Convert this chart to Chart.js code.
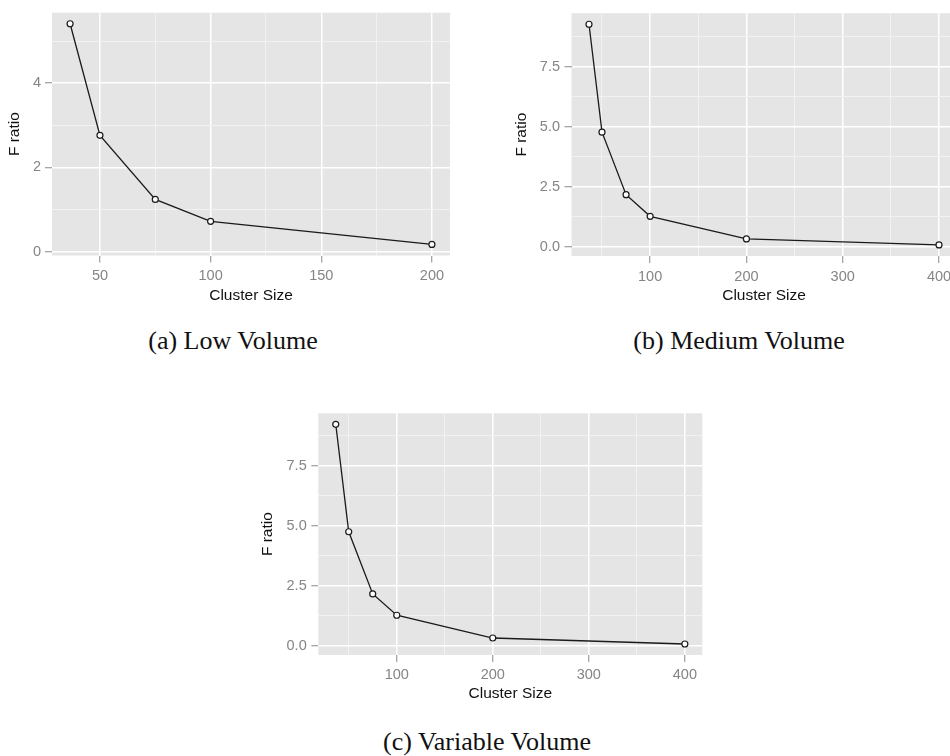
<!DOCTYPE html>
<html><head><meta charset="utf-8">
<script src="https://cdn.jsdelivr.net/npm/chart.js@4.4.1/dist/chart.umd.min.js"></script>
<style>
html,body{margin:0;padding:0;background:#fff;overflow:hidden;width:950px;height:756px;position:relative;}
canvas{position:absolute;display:block;}
.cap{position:absolute;font-family:"Liberation Serif","Times New Roman",serif;font-size:26px;line-height:26px;color:#111;white-space:nowrap;transform:translateX(-50%);}
</style></head><body>
<canvas id="ca" width="450" height="306" style="left:0px;top:0px"></canvas>
<canvas id="cb" width="457" height="306" style="left:500px;top:0px"></canvas>
<canvas id="cc" width="453" height="306" style="left:250px;top:400px"></canvas>
<div class="cap" style="left:233px;top:328px">(a) Low Volume</div>
<div class="cap" style="left:739px;top:328px">(b) Medium Volume</div>
<div class="cap" style="left:487px;top:729px">(c) Variable Volume</div>
<script>
// ---- data ----
const clusterSizeA = [36.5, 50, 75, 100, 200];
const fRatioA      = [5.41, 2.76, 1.24, 0.72, 0.17];
const clusterSizeB = [36.5, 50, 75, 100, 200, 400];
const fRatioB      = [9.26, 4.77, 2.17, 1.27, 0.33, 0.08];
const clusterSizeC = [36.5, 50, 75, 100, 200, 400];
const fRatioC      = [9.23, 4.75, 2.16, 1.27, 0.32, 0.07];

// ---- ticks ----
const xTicksA = [50, 100, 150, 200];
const xTickLabelsA = ['50', '100', '150', '200'];
const xMinorA = [75, 125, 175];
const yTicksA = [0, 2, 4];
const yTickLabelsA = ['0', '2', '4'];
const yMinorA = [1, 3, 5];

const xTicksBC = [100, 200, 300, 400];
const xTickLabelsBC = ['100', '200', '300', '400'];
const xMinorBC = [50, 150, 250, 350];
const yTicksBC = [0, 2.5, 5, 7.5];
const yTickLabelsBC = ['0.0', '2.5', '5.0', '7.5'];
const yMinorBC = [1.25, 3.75, 6.25, 8.75];

const xTitle = 'Cluster Size';
const yTitle = 'F ratio';

// ---- styling ----
const SANS = "'Liberation Sans', Arial, sans-serif";
const bgPlugin = {
  id: 'panelBg',
  beforeDraw(chart) {
    const {ctx, chartArea: a} = chart;
    ctx.save();
    ctx.fillStyle = '#E5E5E5';
    ctx.fillRect(a.left, a.top, a.right - a.left, a.bottom - a.top);
    ctx.restore();
  }
};

function expand(arr) {
  const lo = Math.min(...arr), hi = Math.max(...arr), d = (hi - lo) * 0.05;
  return [lo - d, hi + d];
}

function makeChart(id, xs, ys, xMaj, xLab, xMin, yMaj, yLab, yMin, g) {
  const [xmin, xmax] = expand(xs);
  const [ymin, ymax] = expand(ys);
  const gridOpts = (maj) => ({
    drawTicks: true,
    tickLength: 7,
    tickWidth: 1,
    tickColor: (c) => (c.tick && maj.includes(c.tick.value)) ? '#8a8a8a' : 'rgba(0,0,0,0)',
    color: (c) => (c.tick && maj.includes(c.tick.value)) ? '#FFFFFF' : '#F2F2F2',
    lineWidth: (c) => (c.tick && maj.includes(c.tick.value)) ? 1.5 : 1
  });
  const labelOf = (maj, lab) => (v) => { const i = maj.indexOf(v); return i >= 0 ? lab[i] : ''; };
  return new Chart(document.getElementById(id), {
    type: 'line',
    data: {
      datasets: [{
        data: xs.map((x, i) => ({x: x, y: ys[i]})),
        borderColor: '#1a1a1a',
        borderWidth: 1.3,
        pointRadius: 3,
        pointBorderWidth: 1.2,
        pointBackgroundColor: '#ffffff',
        pointBorderColor: '#1a1a1a',
        tension: 0,
        clip: false
      }]
    },
    options: {
      responsive: false,
      animation: false,
      layout: {autoPadding: false, padding: {top: 10, right: g.padRight, left: 0, bottom: 0}},
      plugins: {legend: {display: false}, tooltip: {enabled: false}},
      scales: {
        x: {
          type: 'linear', position: 'bottom', min: xmin, max: xmax,
          afterBuildTicks: (s) => { s.ticks = [...xMaj, ...xMin].sort((a, b) => a - b).filter(v => v >= xmin && v <= xmax).map(v => ({value: v})); },
          afterFit: (s) => { s.height = g.xAxisH; },
          border: {display: false},
          grid: gridOpts(xMaj),
          ticks: {callback: labelOf(xMaj, xLab), color: '#858585', padding: g.xTickPad, maxRotation: 0, autoSkip: false,
                  font: {family: SANS, size: 14.5}},
          title: {display: true, text: xTitle, color: '#111', font: {family: SANS, size: 15.5, lineHeight: 1.2},
                  padding: {top: 0, bottom: g.xTitlePad}}
        },
        y: {
          type: 'linear', position: 'left', min: ymin, max: ymax,
          afterBuildTicks: (s) => { s.ticks = [...yMaj, ...yMin].sort((a, b) => a - b).filter(v => v >= ymin && v <= ymax).map(v => ({value: v})); },
          afterFit: (s) => { s.width = g.yAxisW; },
          border: {display: false},
          grid: gridOpts(yMaj),
          ticks: {callback: labelOf(yMaj, yLab), color: '#858585', padding: g.yTickPad, autoSkip: false,
                  font: {family: SANS, size: 14.5}},
          title: {display: true, text: yTitle, color: '#111', font: {family: SANS, size: 15.5, lineHeight: 1.2},
                  padding: {top: g.yTitlePad, bottom: 0}}
        }
      }
    },
    plugins: [bgPlugin]
  });
}

makeChart('ca', clusterSizeA, fRatioA, xTicksA, xTickLabelsA, xMinorA, yTicksA, yTickLabelsA, yMinorA,
  {padRight: 0, xAxisH: 50.5, xTickPad: 5, xTitlePad: 1, yAxisW: 52, yTickPad: 4, yTitlePad: 5.7});
makeChart('cb', clusterSizeB, fRatioB, xTicksBC, xTickLabelsBC, xMinorBC, yTicksBC, yTickLabelsBC, yMinorBC,
  {padRight: 0.5, xAxisH: 50, xTickPad: 5, xTitlePad: 1, yAxisW: 71.5, yTickPad: 4.5, yTitlePad: 12.4});
makeChart('cc', clusterSizeC, fRatioC, xTicksBC, xTickLabelsBC, xMinorBC, yTicksBC, yTickLabelsBC, yMinorBC,
  {padRight: 0.7, xAxisH: 51, xTickPad: 4.6, xTitlePad: 3.4, yAxisW: 68.3, yTickPad: 4.6, yTitlePad: 8.7});
</script>
</body></html>
